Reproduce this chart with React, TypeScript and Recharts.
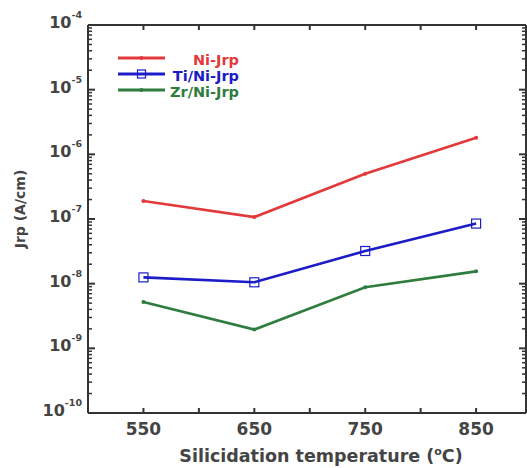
import { Line, LineChart, XAxis, YAxis } from 'recharts';

const temps = [550, 650, 750, 850];
const niJrp = [1.9e-7, 1.07e-7, 5.0e-7, 1.8e-6];
const tiNiJrp = [1.25e-8, 1.05e-8, 3.2e-8, 8.5e-8];
const zrNiJrp = [5.2e-9, 1.95e-9, 8.8e-9, 1.55e-8];

const xTicks = [550, 600, 650, 700, 750, 800, 850];
const xLabels = [550, 650, 750, 850];
const yExponents = [-10, -9, -8, -7, -6, -5, -4];
const minorSteps = [2, 3, 4, 5, 6, 7, 8, 9];

const data = temps.map((t, i) => ({
  temp: t,
  ni: niJrp[i],
  ti: tiNiJrp[i],
  zr: zrNiJrp[i],
}));

// log ticks: majors at each decade plus 2..9 minors
const yTicks: number[] = [];
yExponents.forEach((e) => {
  yTicks.push(Math.pow(10, e));
  if (e < -4) minorSteps.forEach((m) => yTicks.push(m * Math.pow(10, e)));
});

const isMajor = (v: number) => {
  const l = Math.log10(v);
  return Math.abs(l - Math.round(l)) < 1e-6;
};

const FONT = '"DejaVu Sans", sans-serif';
const TXT = '#444';
const AXIS = '#333';

const SERIES = [
  { key: 'ni', name: 'Ni-Jrp', color: '#e23a3a', marker: 'dot' },
  { key: 'ti', name: 'Ti/Ni-Jrp', color: '#1c1cc8', marker: 'square' },
  { key: 'zr', name: 'Zr/Ni-Jrp', color: '#2e7d3e', marker: 'dot' },
];

const LeftTick = ({ x, y, payload }: any) => {
  const v = payload.value;
  const major = isMajor(v);
  const exp = Math.round(Math.log10(v));
  return (
    <g>
      <line x1={x} y1={y} x2={x + (major ? 7 : 4)} y2={y} stroke={AXIS} strokeWidth={major ? 2 : 1.5} />
      {major && (
        <text x={x - 6} y={y + 3} textAnchor="end" fontFamily={FONT} fontWeight={700} fill={TXT}>
          <tspan fontSize={16}>10</tspan>
          <tspan fontSize={9.5} dy={-10}>{exp}</tspan>
        </text>
      )}
    </g>
  );
};

const RightTick = ({ x, y, payload }: any) => {
  const major = isMajor(payload.value);
  return <line x1={x} y1={y} x2={x - (major ? 7 : 4)} y2={y} stroke={AXIS} strokeWidth={major ? 2 : 1.5} />;
};

const BottomTick = ({ x, y, payload }: any) => (
  <g>
    <line x1={x} y1={y} x2={x} y2={y - 5} stroke={AXIS} strokeWidth={2} />
    {xLabels.includes(payload.value) && (
      <text x={x} y={y + 22} textAnchor="middle" fontFamily={FONT} fontWeight={700} fontSize={17} fill={TXT}>
        {payload.value}
      </text>
    )}
  </g>
);

const TopTick = ({ x, y }: any) => <line x1={x} y1={y} x2={x} y2={y + 5} stroke={AXIS} strokeWidth={2} />;

const XLabel = ({ viewBox }: any) => (
  <text
    x={viewBox.x + viewBox.width / 2 + 14}
    y={viewBox.y + 49}
    textAnchor="middle"
    fontFamily={FONT}
    fontWeight={700}
    fontSize={17.5}
    fill={TXT}
  >
    Silicidation temperature (<tspan fontSize={11} dy={-7}>o</tspan>
    <tspan dy={7}>C)</tspan>
  </text>
);

const YLabel = ({ viewBox }: any) => {
  const cx = 25;
  const cy = 209;
  return (
    <text
      x={cx}
      y={cy}
      transform={`rotate(-90 ${cx} ${cy})`}
      textAnchor="middle"
      fontFamily={FONT}
      fontWeight={700}
      fontSize={14}
      fill={TXT}
    >
      Jrp (A/cm)
    </text>
  );
};

const SquareDot = ({ cx, cy, stroke }: any) => (
  <rect x={cx - 4.5} y={cy - 4.5} width={9} height={9} fill="none" stroke={stroke} strokeWidth={1.2} />
);

const SmallDot = ({ cx, cy, stroke }: any) => <circle cx={cx} cy={cy} r={2} fill={stroke} stroke="none" />;

const LegendBox = () => (
  <svg width={140} height={50} style={{ position: 'absolute', left: 118, top: 50 }}>
    {SERIES.map((s, i) => {
      const y = 8 + i * 16;
      return (
        <g key={s.key}>
          <line x1={0} y1={y} x2={47} y2={y} stroke={s.color} strokeWidth={3} />
          {s.marker === 'square' ? (
            <rect x={19.5} y={y - 4} width={8} height={8} fill="none" stroke={s.color} strokeWidth={1.2} />
          ) : (
            <circle cx={23.5} cy={y} r={2} fill={s.color} />
          )}
          <text x={121} y={y + 7} textAnchor="end" fontFamily={FONT} fontWeight={700} fontSize={14.5} fill={s.color}>
            {s.name}
          </text>
        </g>
      );
    })}
  </svg>
);

export default function App() {
  return (
    <div style={{ position: 'absolute', left: 0, top: 0, width: 527, height: 468, background: '#fff' }}>
      <LineChart width={527} height={468} data={data} margin={{ top: 24, right: 0, left: 0, bottom: 0 }}>
        <XAxis
          xAxisId="bottom"
          dataKey="temp"
          type="number"
          domain={[500, 895]}
          ticks={xTicks}
          interval={0}
          height={55}
          tickSize={0}
          tickMargin={0}
          tickLine={false}
          axisLine={{ stroke: AXIS, strokeWidth: 2 }}
          tick={<BottomTick />}
          label={<XLabel />}
        />
        <XAxis
          xAxisId="top"
          orientation="top"
          dataKey="temp"
          type="number"
          domain={[500, 895]}
          ticks={xTicks}
          interval={0}
          height={1}
          tickSize={0}
          tickMargin={0}
          tickLine={false}
          axisLine={{ stroke: AXIS, strokeWidth: 2 }}
          tick={<TopTick />}
        />
        <YAxis
          yAxisId="left"
          scale="log"
          type="number"
          domain={[1e-10, 1e-4]}
          allowDataOverflow
          ticks={yTicks}
          interval={0}
          width={88}
          tickSize={0}
          tickMargin={0}
          tickLine={false}
          axisLine={{ stroke: AXIS, strokeWidth: 2 }}
          tick={<LeftTick />}
          label={<YLabel />}
        />
        <YAxis
          yAxisId="right"
          orientation="right"
          scale="log"
          type="number"
          domain={[1e-10, 1e-4]}
          allowDataOverflow
          ticks={yTicks}
          interval={0}
          width={1}
          tickSize={0}
          tickMargin={0}
          tickLine={false}
          axisLine={{ stroke: AXIS, strokeWidth: 2 }}
          tick={<RightTick />}
        />
        {SERIES.map((s) => (
          <Line
            key={s.key}
            xAxisId="bottom"
            yAxisId="left"
            dataKey={s.key}
            name={s.name}
            stroke={s.color}
            strokeWidth={2.6}
            dot={s.marker === 'square' ? <SquareDot /> : <SmallDot />}
            activeDot={false}
            isAnimationActive={false}
          />
        ))}
      </LineChart>
      <LegendBox />
    </div>
  );
}
